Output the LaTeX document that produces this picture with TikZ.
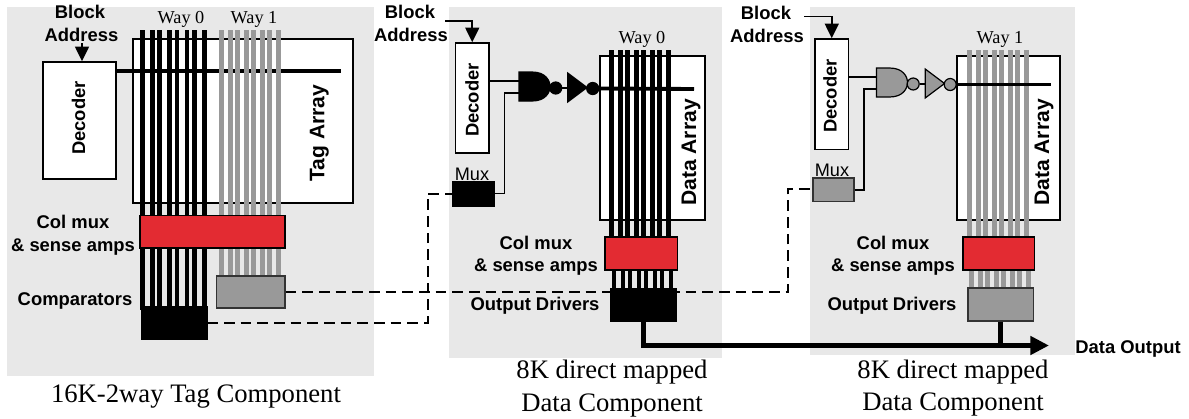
\documentclass[tikz,border=0pt]{standalone}
\usepackage{fontspec}
\setmainfont{Liberation Serif}
\setsansfont{Liberation Sans}
\usetikzlibrary{arrows.meta}
\definecolor{panelgray}{HTML}{E8E8E8}
\definecolor{waygray}{HTML}{999999}
\definecolor{ampred}{HTML}{E32B32}
\newcommand{\cornerbox}[7]{%
  \pgfmathsetmacro{\cbw}{(#4-#2)*0.75}\pgfmathsetmacro{\cbh}{(#5-#3)*0.75}%
  \node[#6,minimum width=\cbw pt,minimum height=\cbh pt] (#1) at ({(#2+#4)/2},{(#3+#5)/2}) {#7};}
\newcommand{\gatepair}[4]{% prefix, x, y, fill
  \begin{scope}[shift={(#2,#3)}]
    \coordinate (#1a) at (0,9);
    \coordinate (#1b) at (0,21);
    \draw[gateline,fill=#4] (0,0) -- (13,0) .. controls (27,0) and (31,9) .. (31,14.5)
       .. controls (31,20) and (27,29) .. (13,29) -- (0,29) -- cycle;
    \node[bubble,fill=#4] (#1n) at (36.7,16) {};
    \draw[gateline,fill=#4] (48.7,1) -- (68,15.5) -- (48.7,30) -- cycle;
    \node[bubble,fill=#4] (#1i) at (73.7,16.5) {};
    \draw[thinwire] (#1n.east) -- (48.7,16);
  \end{scope}}
\tikzset{
  panel/.style={fill=panelgray,draw=none,inner sep=0pt},
  whitebox/.style={fill=white,draw=black,line width=1.2pt,inner sep=0pt},
  redbox/.style={fill=ampred,draw=black,line width=1.2pt,inner sep=0pt},
  graybox/.style={fill=waygray,draw=black!80,line width=1.1pt,inner sep=0pt},
  blackbox/.style={fill=black,draw=black,line width=0.5pt,inner sep=0pt},
  bitline/.style={line width=3.4pt},
  wordline/.style={line width=2.9pt},
  thinwire/.style={line width=1.25pt},
  gateline/.style={line width=0.9pt,draw=black},
  bubble/.style={circle,draw=black,line width=0.9pt,minimum size=9pt,inner sep=0pt},
  dashwire/.style={line width=1.5pt,dash pattern=on 8pt off 4.5pt},
  busline/.style={line width=3.6pt,line join=miter},
  inarrow/.style={thinwire,-{Triangle[length=11pt,width=10.5pt]}},
  lbl/.style={font=\sffamily\bfseries\fontsize{13.8}{15}\selectfont,anchor=base,inner sep=0pt},
  arrlbl/.style={font=\sffamily\bfseries\fontsize{15.8}{17}\selectfont,anchor=base,inner sep=0pt,rotate=90},
  muxlbl/.style={font=\sffamily\fontsize{13.6}{15}\selectfont,anchor=base,inner sep=0pt},
  waylbl/.style={font=\rmfamily\fontsize{13.7}{15}\selectfont,anchor=base,inner sep=0pt},
  caplbl/.style={font=\rmfamily\fontsize{20}{22}\selectfont,anchor=base,inner sep=0pt},
}
\begin{document}
\begin{tikzpicture}[x=0.75pt,y=-0.75pt]
\useasboundingbox (0,0) rectangle (1189,418);
% panels
\cornerbox{panA}{7}{7}{374}{376}{panel}{}
\cornerbox{panB}{449}{7}{722}{358}{panel}{}
\cornerbox{panC}{810}{7}{1075}{355}{panel}{}
% arrays
\cornerbox{arrA}{133}{39}{353}{203}{whitebox}{}
\cornerbox{arrB}{600}{56}{705}{220}{whitebox}{}
\cornerbox{arrC}{957}{56}{1060}{220}{whitebox}{}
% decoders
\cornerbox{decA}{43}{62}{116}{179}{whitebox}{}
\cornerbox{decB}{455.5}{43}{489}{153}{whitebox}{}
\cornerbox{decC}{815}{39}{848.5}{149.5}{whitebox}{}
% panel A word line and bit lines
\coordinate (wordAend) at (341,71);
\draw[wordline] (decA.east |- wordAend) -- (wordAend);
\foreach \bx in {142.7,152.3,159.7,169.3,177,187,194.7,204.3} \draw[bitline,draw=black] (\bx,30) -- (\bx,310);
\foreach \bx in {221.7,230.7,237.7,246.7,253.3,262.3,269.3,278.7} \draw[bitline,draw=waygray] (\bx,30) -- (\bx,278);
% panel B gates, word line and bit lines
\gatepair{gB}{519}{72}{black}
\coordinate (wordBend) at (694,89);
\draw[wordline] (gBi.east) -- (wordBend);
\foreach \bx in {611.7,620.7,627.7,636.7,643.7,652.7,659.7,668.7} \draw[bitline,draw=black] (\bx,50) -- (\bx,240);
\foreach \bx in {614,623,630,639,646,655,662,671} \draw[bitline,draw=black] (\bx,268) -- (\bx,290);
% panel C bit lines, gates and word line
\foreach \bx in {969.3,978.3,985.3,994.3,1001.3,1010.3,1017.3,1026.3} \draw[bitline,draw=waygray] (\bx,50) -- (\bx,240);
\foreach \bx in {971.7,980.7,987.7,996.7,1003.7,1012.7,1019.7,1028.7} \draw[bitline,draw=waygray] (\bx,268) -- (\bx,290);
\gatepair{gC}{876.5}{68}{waygray}
\coordinate (wordCend) at (1051,84.5);
\draw[wordline] (gCi.east) -- (wordCend);
% red amps
\cornerbox{ampA}{140}{215.5}{285}{248}{redbox}{}
\cornerbox{ampB}{605}{237}{677.5}{270}{redbox}{}
\cornerbox{ampC}{963}{237}{1034.5}{270}{redbox}{}
% dashed control wires (behind the drivers)
\coordinate (turnB) at (428,193.5);
\coordinate (turnC) at (788,188.5);
% comparators, drivers, muxes
\cornerbox{cmpW}{216.5}{276}{285}{308}{graybox}{}
\cornerbox{cmpK}{141}{306}{207}{339}{blackbox}{}
\draw[dashwire] (cmpW.east) -| (turnC) -- (turnC -| 813,0);
\draw[dashwire] (cmpK.east) -| (turnB) -- (turnB -| 452,0);
\cornerbox{drvB}{610.5}{288}{676.5}{321}{blackbox}{}
\cornerbox{drvC}{968}{288}{1033.5}{321}{graybox}{}
\cornerbox{muxB}{452}{181}{494.5}{206}{blackbox}{}
\cornerbox{muxC}{813}{178}{854}{201.5}{graybox}{}
% gate inputs
\draw[thinwire] (decB.east |- gBa) -- (gBa);
\draw[thinwire] (muxB.east) -- ++(9.5,0) |- (gBb);
\draw[thinwire] (decC.east |- gCa) -- (gCa);
\draw[thinwire] (muxC.east) -- ++(9,0) |- (gCb);
% block address arrows
\coordinate (inA) at (82,43);
\coordinate (inB) at (445,21);
\coordinate (inC) at (804,16.5);
\draw[inarrow] (inA) -- (inA |- decA.north);
\draw[inarrow] (inB) -| (decB.north);
\draw[inarrow] (inC) -| (decC.north);
% data output
\coordinate (outEnd) at (1049,345.5);
\draw[busline,-{Triangle[length=14pt,width=13.5pt]}] (drvB.south) |- (outEnd);
\draw[busline] (drvC.south) -- (drvC.south |- outEnd);
% labels
\node[lbl] (tA1) at (80,18) {Block};
\node[lbl] (tA2) at (81.5,41) {Address};
\node[lbl] (tB1) at (410,18) {Block};
\node[lbl] (tB2) at (411,41) {Address};
\node[lbl] (tC1) at (766,19) {Block};
\node[lbl] (tC2) at (767,42) {Address};
\node[lbl,rotate=90] (tDa) at (85,118) {Decoder};
\node[lbl,rotate=90] (tDb) at (478.5,100) {Decoder};
\node[lbl,rotate=90] (tDc) at (836.5,96) {Decoder};
\node[arrlbl] (tTag) at (324.3,133) {Tag Array};
\node[arrlbl] (tDatB) at (696,152.5) {Data Array};
\node[arrlbl] (tDatC) at (1049,152.5) {Data Array};
\node[waylbl] (wA0) at (181,23) {Way 0};
\node[waylbl] (wA1) at (254,23) {Way 1};
\node[waylbl] (wB0) at (642,43) {Way 0};
\node[waylbl] (wC1) at (1000,43) {Way 1};
\node[lbl] (cA1) at (73,228) {Col mux};
\node[lbl] (cA2) at (73,251) {\& sense amps};
\node[lbl] (cA3) at (75,305) {Comparators};
\node[lbl] (cB1) at (536,249) {Col mux};
\node[lbl] (cB2) at (536,271) {\& sense amps};
\node[lbl] (cB3) at (535,310) {Output Drivers};
\node[lbl] (cC1) at (893,249) {Col mux};
\node[lbl] (cC2) at (893,271) {\& sense amps};
\node[lbl] (cC3) at (892,310) {Output Drivers};
\node[muxlbl] (mB) at (472,180) {Mux};
\node[muxlbl] (mC) at (832,176) {Mux};
\node[lbl] (tOut) at (1128,353) {Data Output};
\node[caplbl] (capA) at (196,402) {16K-2way Tag Component};
\node[caplbl] (capB1) at (612,378) {8K direct mapped};
\node[caplbl] (capB2) at (612,411) {Data Component};
\node[caplbl] (capC1) at (953,378) {8K direct mapped};
\node[caplbl] (capC2) at (953,410) {Data Component};
\end{tikzpicture}
\end{document}
